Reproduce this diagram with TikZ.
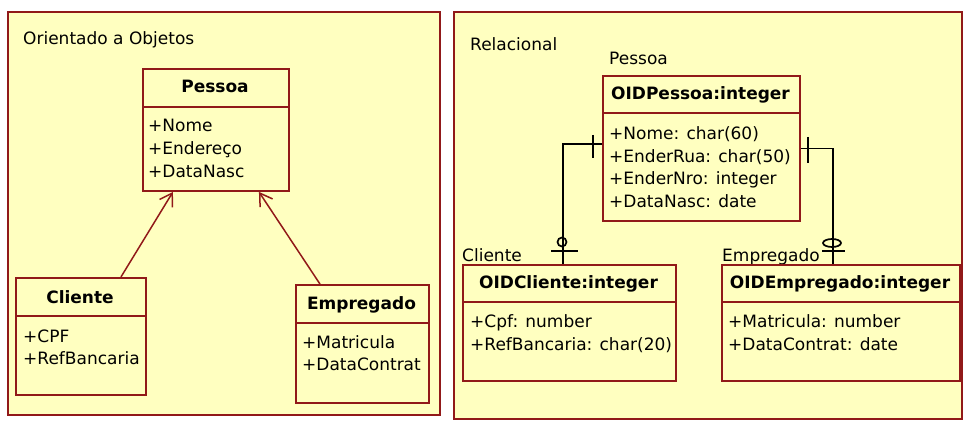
\documentclass[tikz,border=0pt]{standalone}
\usepackage{fontspec}
\setmainfont{DejaVu Sans}
\usetikzlibrary{arrows.meta}
\definecolor{pale}{RGB}{255,255,192}
\definecolor{maroon}{RGB}{145,25,25}
\begin{document}
\begin{tikzpicture}[x=1pt,y=-1pt,
 frame/.style={draw=maroon,fill=pale,line width=1.9pt},
 box/.style={draw=maroon,fill=pale,line width=1.9pt,inner sep=0pt,anchor=north west},
 divider/.style={draw=maroon,line width=1.9pt},
 txt/.style={font=\fontsize{17}{22}\selectfont,inner sep=0pt,anchor=base west},
 hd/.style={font=\fontsize{17}{22}\selectfont\bfseries,inner sep=0pt,anchor=base},
 inh/.style={draw=maroon,line width=1.5pt,-{Straight Barb[length=12pt,width=15pt,line width=1.5pt]}},
 rel/.style={draw=black,line width=1.7pt}
]
\useasboundingbox (0,0) rectangle (972,433);
\fill[white] (0,0) rectangle (972,433);
% frames
\draw[frame] (8,12) rectangle (440,415);
\draw[frame] (454,12) rectangle (962,419);
\node[txt] (lblOO) at (23,45) {Orientado a Objetos};
\node[txt] (lblRel) at (470,51) {Relacional};

% ---- UML side
\node[box,minimum width=146pt,minimum height=122pt] (pessoa) at (142,68) {};
\draw[divider] ([yshift=-39pt]pessoa.north west) -- ([yshift=-39pt]pessoa.north east);
\node[hd] (pessoaH) at (215,93) {Pessoa};
\node[txt] (pa1) at (148,132) {+Nome};
\node[txt] (pa2) at (148,154) {+Endereço};
\node[txt] (pa3) at (148,177) {+DataNasc};

\node[box,minimum width=130pt,minimum height=117pt] (cli) at (15,277) {};
\draw[divider] ([yshift=-39pt]cli.north west) -- ([yshift=-39pt]cli.north east);
\node[hd] (cliH) at (80,303) {Cliente};
\node[txt] (ca1) at (23,342) {+CPF};
\node[txt] (ca2) at (23,364) {+RefBancaria};

\node[box,minimum width=133pt,minimum height=118pt] (emp) at (295,284) {};
\draw[divider] ([yshift=-39pt]emp.north west) -- ([yshift=-39pt]emp.north east);
\node[hd] (empH) at (361.5,309) {Empregado};
\node[txt] (ea1) at (302,348) {+Matricula};
\node[txt] (ea2) at (302,370) {+DataContrat};

\draw[inh] ([xshift=40pt]cli.north) -- ([xshift=-43pt]pessoa.south);
\draw[inh] ([xshift=-42.5pt]emp.north) -- ([xshift=43pt]pessoa.south);

% ---- Relational side
\node[txt] (lblP) at (609,65) {Pessoa};
\node[box,minimum width=197pt,minimum height=145pt] (erp) at (602,75) {};
\draw[divider] ([yshift=-38pt]erp.north west) -- ([yshift=-38pt]erp.north east);
\node[hd] (erpH) at (700.5,100) {OIDPessoa:integer};
\node[txt] (ra1) at (609,140) {+Nome: char(60)};
\node[txt] (ra2) at (609,162) {+EnderRua: char(50)};
\node[txt] (ra3) at (609,184) {+EnderNro: integer};
\node[txt] (ra4) at (609,207) {+DataNasc: date};

\node[txt] (lblC) at (462,261) {Cliente};
\node[box,minimum width=213pt,minimum height=116pt] (ercli) at (462,264) {};
\draw[divider] ([yshift=-38pt]ercli.north west) -- ([yshift=-38pt]ercli.north east);
\node[hd] (ercliH) at (568.5,288) {OIDCliente:integer};
\node[txt] (rc1) at (470,327) {+Cpf: number};
\node[txt] (rc2) at (470,350) {+RefBancaria: char(20)};

\node[txt] (lblE) at (722,261) {Empregado};
\node[box,minimum width=238pt,minimum height=116pt] (eremp) at (721,264) {};
\draw[divider] ([yshift=-38pt]eremp.north west) -- ([yshift=-38pt]eremp.north east);
\node[hd] (erempH) at (840,288) {OIDEmpregado:integer};
\node[txt] (re1) at (728,327) {+Matricula: number};
\node[txt] (re2) at (728,350) {+DataContrat: date};

\draw[rel] ([yshift=4.5pt]erp.west) -| ([xshift=-6.5pt]ercli.north);
\draw[rel] (erp.east) -| ([xshift=-8pt]eremp.north);
% cardinality marks
\draw[rel] (593,135) -- (593,158);
\draw[rel] (551,251) -- (578,251);
\draw[rel] (562,242) circle[radius=4.5];
\draw[rel] (808,137) -- (808,163);
\draw[rel] (822,251) -- (845,251);
\draw[rel] (832,243) ellipse[x radius=9,y radius=4];
\end{tikzpicture}
\end{document}
